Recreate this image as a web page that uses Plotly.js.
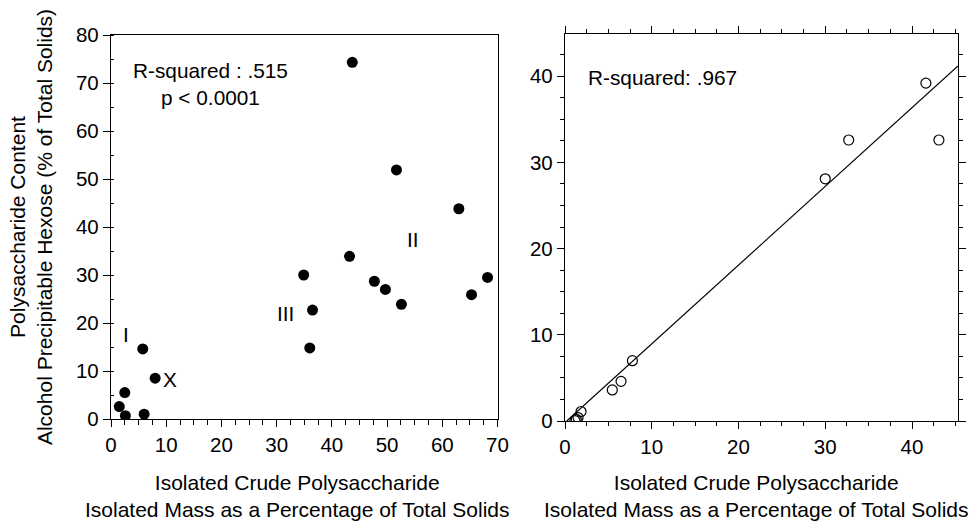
<!DOCTYPE html>
<html>
<head>
<meta charset="utf-8">
<script src="https://cdn.plot.ly/plotly-3.0.1.min.js"></script>
<style>html,body{margin:0;padding:0;background:#fff;}#chart{width:974px;height:521px;}</style>
</head>
<body>
<div id="chart"></div>
<script>
// Left panel: isolated crude polysaccharide (%) vs alcohol precipitable hexose (%)
const leftX = [43.7, 51.7, 63.0, 43.2, 34.9, 47.7, 49.7, 52.6, 65.3, 68.2, 36.5, 36.0, 5.75, 8.0, 2.5, 1.5, 2.6, 6.0];
const leftY = [74.3, 51.9, 43.8, 33.9, 30.0, 28.7, 27.0, 23.9, 25.9, 29.5, 22.7, 14.8, 14.6, 8.5, 5.5, 2.6, 0.7, 1.0];
const groupLabels = ["I", "II", "III", "X"];
const groupLabelX = [2.8, 54.7, 31.6, 10.6];
const groupLabelY = [17.6, 37.3, 22.0, 8.3];

// Right panel: open points and fitted line
const rightX = [41.6, 32.7, 43.1, 30.0, 7.77, 6.46, 5.45, 1.85, 1.5, 1.3, 1.15];
const rightY = [39.2, 32.6, 32.6, 28.1, 7.0, 4.6, 3.6, 1.1, 0.4, 0.2, 0.05];
const fitX = [0.2, 45.3];
const fitY = [0.0, 41.2];

const leftStats = "R-squared : .515<br>p &lt; 0.0001";
const rightStats = "R-squared: .967";
const xTitle = "Isolated Crude Polysaccharide<br>Isolated Mass as a Percentage of Total Solids";
const yTitle = "Polysaccharide Content<br>Alcohol Precipitable Hexose (% of Total Solids)";

const FONT = "Liberation Sans, Arial, Helvetica, sans-serif";
const TICK = 20.5;
const TITLE = 21;
const ANNO = 20.8;

const traces = [
  {x: leftX, y: leftY, xaxis: 'x', yaxis: 'y', type: 'scatter', mode: 'markers',
   marker: {color: '#000', size: 11}, hoverinfo: 'x+y', showlegend: false},
  {x: rightX, y: rightY, xaxis: 'x2', yaxis: 'y2', type: 'scatter', mode: 'markers',
   marker: {symbol: 'circle-open', color: '#000', size: 10, line: {width: 1.2, color: '#000'}},
   showlegend: false},
  {x: fitX, y: fitY, xaxis: 'x2', yaxis: 'y2', type: 'scatter', mode: 'lines',
   line: {color: '#000', width: 1.2}, showlegend: false, hoverinfo: 'skip'}
];

const axisBase = {
  showgrid: false, zeroline: false, showline: true, linecolor: '#000', linewidth: 1.4,
  ticks: 'outside', tickcolor: '#000', tickwidth: 1.3, ticklen: 7,
  tickfont: {family: FONT, size: TICK, color: '#000'}, fixedrange: true
};

const annotations = groupLabels.map((t, i) => ({
  x: groupLabelX[i], y: groupLabelY[i], xref: 'x', yref: 'y', text: t, showarrow: false,
  font: {family: FONT, size: ANNO, color: '#000'}
}));
annotations.push({x: 18, y: 69.8, xref: 'x', yref: 'y', text: leftStats, showarrow: false,
  align: 'center', font: {family: FONT, size: ANNO, color: '#000'}});
annotations.push({x: 11.2, y: 39.9, xref: 'x2', yref: 'y2', text: rightStats, showarrow: false,
  font: {family: FONT, size: ANNO, color: '#000'}});
// x-axis titles (placed as annotations so they can sit slightly left of the axis centres, as in the original)
annotations.push({x: 297/974, y: 1 - 496/521, xref: 'paper', yref: 'paper', text: xTitle,
  showarrow: false, align: 'center', xanchor: 'center', yanchor: 'middle',
  font: {family: FONT, size: TITLE, color: '#000'}});
annotations.push({x: 756/974, y: 1 - 496/521, xref: 'paper', yref: 'paper', text: xTitle,
  showarrow: false, align: 'center', xanchor: 'center', yanchor: 'middle',
  font: {family: FONT, size: TITLE, color: '#000'}});

const layout = {
  width: 974, height: 521,
  margin: {l: 0, r: 0, t: 0, b: 0},
  paper_bgcolor: '#fff', plot_bgcolor: '#fff',
  showlegend: false,
  font: {family: FONT, color: '#000'},
  xaxis: Object.assign({}, axisBase, {
    domain: [111/974, 497.5/974], range: [0, 70], dtick: 10, tick0: 0, mirror: true,
    minor: {dtick: 2.5, ticks: 'outside', ticklen: 5, tickcolor: '#000', tickwidth: 1.2},
    anchor: 'y', automargin: false
  }),
  yaxis: Object.assign({}, axisBase, {
    domain: [1 - 419/521, 1 - 35/521], range: [0, 80], dtick: 10, tick0: 0, mirror: true,
    minor: {dtick: 5, ticks: 'inside', ticklen: 3, tickcolor: '#000', tickwidth: 1},
    title: {text: yTitle, font: {family: FONT, size: TITLE, color: '#000'}, standoff: 17},
    anchor: 'x', automargin: false
  }),
  xaxis2: Object.assign({}, axisBase, {
    domain: [565/974, 958/974], range: [0, 45.3], dtick: 10, tick0: 0, mirror: 'ticks',
    minor: {dtick: 2.5, ticks: 'outside', ticklen: 4, tickcolor: '#000', tickwidth: 1.2},
    anchor: 'y2', automargin: false
  }),
  yaxis2: Object.assign({}, axisBase, {
    domain: [1 - 421/521, 1 - 34/521], range: [0, 44.9], dtick: 10, tick0: 0, mirror: 'ticks',
    minor: {dtick: 2.5, ticks: 'outside', ticklen: 4, tickcolor: '#000', tickwidth: 1.2},
    anchor: 'x2', automargin: false
  }),
  annotations: annotations
};

Plotly.newPlot('chart', traces, layout, {displayModeBar: false});
</script>
</body>
</html>
